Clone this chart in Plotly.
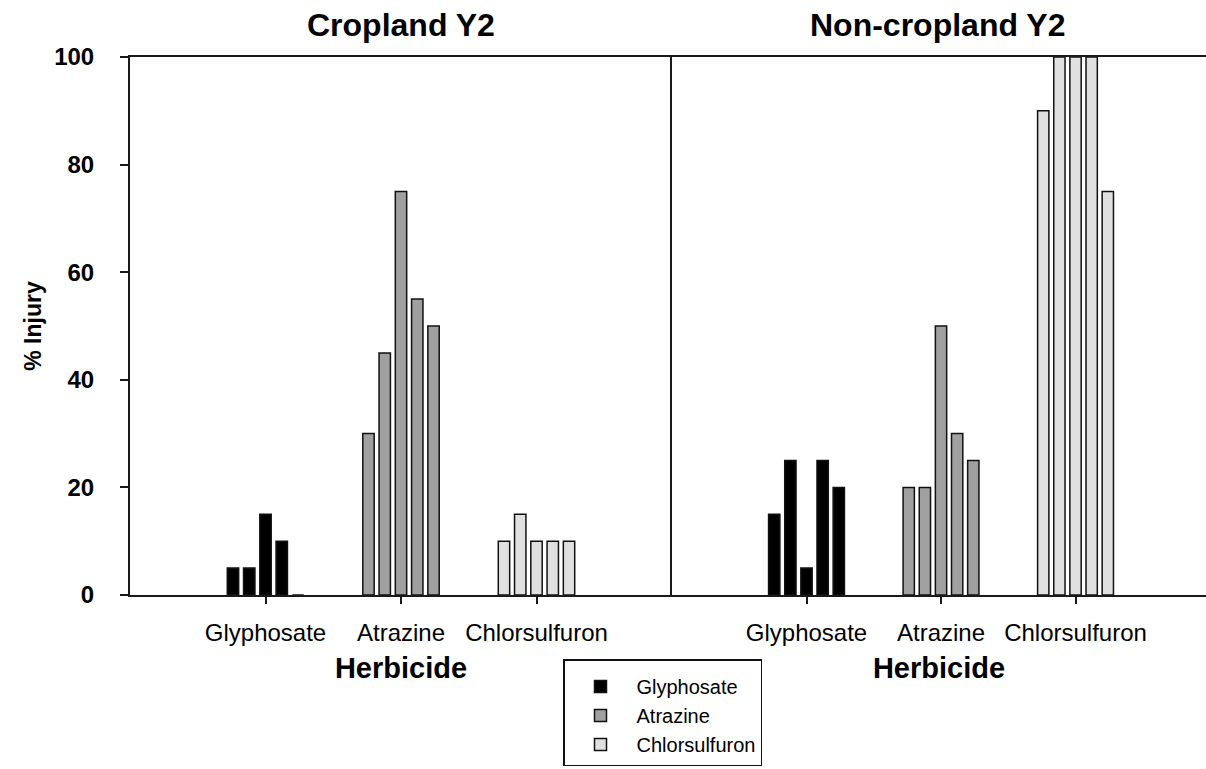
import plotly.graph_objects as go

# herbicide categories on the x axis
herbicides = ["Glyphosate", "Atrazine", "Chlorsulfuron"]
colors = {"Glyphosate": "#000000", "Atrazine": "#A0A0A0", "Chlorsulfuron": "#E0E0E0"}

# % injury, five bars per herbicide
crop_glyphosate = [5, 5, 15, 10, 0]
crop_atrazine = [30, 45, 75, 55, 50]
crop_chlorsulfuron = [10, 15, 10, 10, 10]

noncrop_glyphosate = [15, 25, 5, 25, 20]
noncrop_atrazine = [20, 20, 50, 30, 25]
noncrop_chlorsulfuron = [90, 100, 100, 100, 75]

panels = [
    ("x", "y", [crop_glyphosate, crop_atrazine, crop_chlorsulfuron]),
    ("x2", "y2", [noncrop_glyphosate, noncrop_atrazine, noncrop_chlorsulfuron]),
]

FONT = "Liberation Sans, Arial, sans-serif"
LINE = "#1a1a1a"

fig = go.Figure()

for xa, ya, series in panels:
    for i in range(5):
        fig.add_trace(go.Bar(
            x=herbicides,
            y=[s[i] for s in series],
            xaxis=xa, yaxis=ya,
            marker=dict(color=[colors[h] for h in herbicides],
                        line=dict(color="#111111", width=1.5)),
            showlegend=False,
            hoverinfo="x+y",
        ))

# legend entries, kept on a hidden axis so they do not change the grouping
for h in herbicides:
    fig.add_trace(go.Bar(
        x=[h], y=[None], name=h, xaxis="x3", yaxis="y3",
        marker=dict(color=colors[h], line=dict(color="#111111", width=1.5)),
    ))

split = 542 / 1076

axis_common = dict(
    showline=True, linecolor=LINE, linewidth=2,
    ticks="outside", ticklen=7, tickwidth=1.5, tickcolor=LINE,
    ticklabelstandoff=8,
    tickfont=dict(family=FONT, size=24, color="#000"),
    showgrid=False, zeroline=False, mirror=True,
    range=[-1, 3], type="category",
    title=dict(text="<b>Herbicide</b>", font=dict(family=FONT, size=29, color="#000"), standoff=13),
)

fig.update_layout(
    width=1206, height=769,
    margin=dict(l=130, r=0, t=57, b=174),
    paper_bgcolor="white", plot_bgcolor="white",
    barmode="group", bargap=0.4, bargroupgap=0.3,
    font=dict(family=FONT, color="#000"),
    xaxis=dict(axis_common, domain=[0, split], anchor="y"),
    xaxis2=dict(axis_common, domain=[split, 1], anchor="y2", range=[-1, 2.97]),
    yaxis=dict(
        domain=[0, 1], range=[0, 100], anchor="x",
        showline=True, linecolor=LINE, linewidth=2, mirror=False,
        ticks="outside", ticklen=8, tickwidth=1.5, tickcolor=LINE,
        tickvals=[0, 20, 40, 60, 80, 100], ticklabelstandoff=21,
        tickfont=dict(family=FONT, size=24, color="#000", weight="bold"),
        showgrid=False, zeroline=False,
        title=dict(text="<b>% Injury</b>", font=dict(family=FONT, size=23, color="#000"), standoff=6),
    ),
    yaxis2=dict(
        domain=[0, 1], range=[0, 100], anchor="x2",
        showline=True, linecolor=LINE, linewidth=2, mirror=False,
        showticklabels=False, ticks="", showgrid=False, zeroline=False,
    ),
    xaxis3=dict(domain=[0, 0.01], visible=False, anchor="y3"),
    yaxis3=dict(domain=[0, 0.01], visible=False, anchor="x3"),
    legend=dict(
        x=(563 - 130) / 1076, y=(595 - 659) / 538, xanchor="left", yanchor="top",
        bordercolor="#111111", borderwidth=1.5, bgcolor="white",
        font=dict(family=FONT, size=20, color="#000"),
        itemwidth=62, tracegroupgap=0,
        title=dict(text=" ", font=dict(size=5)),
    ),
    annotations=[
        dict(text="<b>Cropland Y2</b>", x=0.5 * split, y=(595 - 25) / 538,
             xref="paper", yref="paper", xanchor="center", yanchor="middle",
             showarrow=False, font=dict(family=FONT, size=32, color="#000")),
        dict(text="<b>Non-cropland Y2</b>", x=(937 - 130) / 1076, y=(595 - 25) / 538,
             xref="paper", yref="paper", xanchor="center", yanchor="middle",
             showarrow=False, font=dict(family=FONT, size=32, color="#000")),
    ],
)

# drop the default body margin so the figure fills the window exactly
fig.write_html(
    "out.html",
    config={"displayModeBar": False},
    post_script="document.body.style.margin='0';document.documentElement.style.overflow='hidden';",
)
